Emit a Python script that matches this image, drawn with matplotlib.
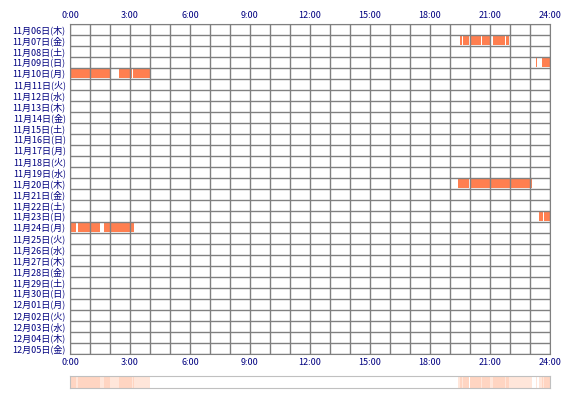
import matplotlib
matplotlib.use("Agg")
import matplotlib.pyplot as plt
import datetime as dt

plt.rcParams['font.family'] = ['Noto Sans CJK JP', 'DejaVu Sans']

start = dt.date(2025, 11, 6)
ndays = 30
wd = "月火水木金土日"
days = [start + dt.timedelta(d) for d in range(ndays)]
day_labels = [f"{d.month}月{d.day:02d}日({wd[d.weekday()]})" for d in days]

# activity segments (hours) per day label
segments = {
    "11月07日(金)": [(19.5, 19.58), (19.65, 19.95), (20.0, 20.55), (20.6, 21.0), (21.15, 21.75), (21.8, 21.95)],
    "11月09日(日)": [(23.3, 23.35), (23.6, 24.0)],
    "11月10日(月)": [(0.0, 2.0), (2.45, 3.08), (3.13, 4.0)],
    "11月20日(木)": [(19.4, 19.93), (19.98, 23.1)],
    "11月23日(日)": [(23.45, 23.65), (23.72, 24.0)],
    "11月24日(月)": [(0.0, 0.3), (0.4, 1.5), (1.7, 3.2)],
}
tick_hours = list(range(0, 25, 3))
tick_labels = [f"{h}:00" for h in tick_hours]

fig = plt.figure(figsize=(5.7, 4.0), dpi=100)
ax = fig.add_axes([70/570, 1-354/400, 480/570, 330/400])
ax.set_xlim(0, 24)
ax.set_ylim(ndays, 0)
for i, lab in enumerate(day_labels):
    for a, b in segments.get(lab, []):
        ax.barh(i + 0.5, b - a, left=a, height=0.8, color='#ff7f50', zorder=1)
for h in range(25):
    ax.axvline(h, color='#808080', lw=1, zorder=2)
for r in range(ndays + 1):
    ax.axhline(r, color='#808080', lw=1, zorder=2)
ax.set_yticks([i + 0.5 for i in range(ndays)])
ax.set_yticklabels(day_labels, fontsize=6.5, color='#000080')
ax.set_xticks(tick_hours)
ax.set_xticklabels(tick_labels, fontsize=6.5, color='#000080')
ax.tick_params(length=0, pad=3, top=True, labeltop=True)
for s in ax.spines.values():
    s.set_color('#808080')

ax2 = fig.add_axes([70/570, 1-388/400, 480/570, 12/400])
ax2.set_xlim(0, 24)
ax2.set_ylim(0, 1)
for lab in day_labels:
    for a, b in segments.get(lab, []):
        ax2.axvspan(a, b, color='#ffb896', alpha=0.35, lw=0)
ax2.set_xticks([]); ax2.set_yticks([])
for s in ax2.spines.values():
    s.set_color('#c0c0c0')

fig.savefig("out.png")
